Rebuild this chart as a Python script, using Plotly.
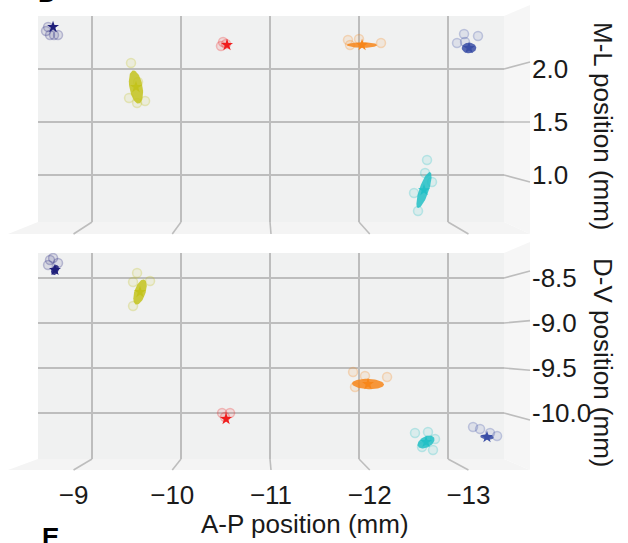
import numpy as np
import plotly.graph_objects as go

W, H = 628, 543

# ---------------- data ----------------
GROUPS = ["navy", "olive", "red", "orange", "blue", "cyan"]
COLORS = ["#1f1f7a", "#c3c31c", "#f01d1d", "#f7861a", "#3a4ea6", "#22c0c6"]

AP_TICKS = [-9, -10, -11, -12, -13]
AP_TICKTEXT = ["\u22129", "\u221210", "\u221211", "\u221212", "\u221213"]
ML_TICKS = [1.0, 1.5, 2.0]
ML_TICKTEXT = ["1.0", "1.5", "2.0"]
DV_TICKS = [-10.0, -9.5, -9.0, -8.5]
DV_TICKTEXT = ["-10.0", "-9.5", "-9.0", "-8.5"]

# top panel: A-P vs M-L (cluster means + covariance ellipses)
TOP_AP = [-8.562, -9.494, -10.517, -12.034, -13.236, -12.730]
TOP_ML = [2.396, 1.830, 2.226, 2.226, 2.198, 0.858]
TOP_RX = [0.02, 0.08, 0.015, 0.17, 0.082, 0.085]
TOP_RY = [0.02, 0.156, 0.015, 0.026, 0.05, 0.17]
TOP_R = [0.0, 0.35, 0.0, 0.0, 0.0, -0.75]

TOP_PTS_AP = [
    [-8.506, -8.528, -8.618, -8.573, -8.483],
    [-9.438, -9.416, -9.506, -9.596, -9.517],
    [-10.472, -10.506, -10.449],
    [-11.876, -12.000, -12.247, -11.899],
    [-13.180, -13.337, -13.101, -13.191],
    [-12.764, -12.742, -12.820, -12.618, -12.663],
]
TOP_PTS_ML = [
    [2.396, 2.321, 2.321, 2.321, 2.358],
    [2.057, 1.726, 1.679, 1.698, 1.877],
    [2.255, 2.236, 2.217],
    [2.274, 2.283, 2.245, 2.226],
    [2.330, 2.311, 2.245, 2.255],
    [1.142, 1.019, 0.934, 0.830, 0.660],
]

# bottom panel: A-P vs D-V
BOT_AP = [-8.584, -9.539, -10.506, -12.101, -13.438, -12.753]
BOT_DV = [-8.411, -8.656, -10.067, -9.678, -10.267, -10.322]
BOT_RX = [0.045, 0.075, 0.015, 0.18, 0.075, 0.095]
BOT_RY = [0.056, 0.14, 0.015, 0.058, 0.03, 0.072]
BOT_R = [-0.3, -0.5, 0.0, 0.1, 0.2, -0.4]

BOT_PTS_AP = [
    [-8.528, -8.618, -8.562, -8.506],
    [-9.506, -9.652, -9.461, -9.461],
    [-10.461, -10.551, -10.494],
    [-11.933, -12.067, -12.315, -11.955],
    [-13.281, -13.360, -13.472, -13.551],
    [-12.629, -12.775, -12.854, -12.831, -12.708],
]
BOT_PTS_DV = [
    [-8.300, -8.333, -8.278, -8.356],
    [-8.444, -8.533, -8.544, -8.811],
    [-10.000, -10.000, -10.044],
    [-9.544, -9.589, -9.600, -9.711],
    [-10.156, -10.178, -10.222, -10.256],
    [-10.222, -10.211, -10.289, -10.411, -10.378],
]

# ---------------- layout geometry (px) ----------------
X0, X1 = 38, 504          # back pane
XF0, XF1 = 8, 530         # front edges
TOP_Y0, TOP_Y1, TOP_FY, TOP_SY = 16, 222, 234, 5
BOT_Y0, BOT_Y1, BOT_FY, BOT_SY = 253, 459, 470, 242

AP_RANGE = [-8.393, -13.629]
AP_FRONT_RANGE = [-8.640, -13.360]
ML_RANGE = [0.557, 2.5]
ML_FRONT_RANGE = [0.667, 2.383]
DV_RANGE = [-10.511, -8.222]
DV_FRONT_RANGE = [-10.393, -8.319]

FONT = "Liberation Sans, Arial, sans-serif"
TXT = "#1a1a1a"
GRID = "#bdbdbd"
PANE = "#f0f1f1"
FLOOR = "#f4f4f4"
SIDE = "#f6f6f6"


def px(x):
    return x / W


def py(y):
    return 1 - y / H


def rgba(hexc, a):
    h = hexc.lstrip("#")
    r, g, b = int(h[0:2], 16), int(h[2:4], 16), int(h[4:6], 16)
    return f"rgba({r},{g},{b},{a})"


def remap(v, src, dst):
    f = (v - src[0]) / (src[1] - src[0])
    return dst[0] + f * (dst[1] - dst[0])


def ellipse(cx, cy, rx, ry, r, n=64):
    t = np.linspace(0, 2 * np.pi, n)
    x = cx + rx * np.cos(t)
    y = cy + ry * (r * np.cos(t) + np.sqrt(1 - r * r) * np.sin(t))
    return x, y


fig = go.Figure()


def add_panel(xa, ya, m_ap, m_v, rx, ry, rr, p_ap, p_v):
    for i, c in enumerate(COLORS):
        fig.add_trace(go.Scatter(
            x=p_ap[i], y=p_v[i], mode="markers", xaxis=xa, yaxis=ya,
            marker=dict(symbol="circle", size=9, color=rgba(c, 0.10),
                        line=dict(color=rgba(c, 0.26), width=1.5)),
            showlegend=False, hoverinfo="skip"))
    for i, c in enumerate(COLORS):
        ex, ey = ellipse(m_ap[i], m_v[i], rx[i], ry[i], rr[i])
        fig.add_trace(go.Scatter(
            x=ex, y=ey, mode="lines", fill="toself", xaxis=xa, yaxis=ya,
            fillcolor=rgba(c, 0.85), line=dict(width=0, color=c),
            showlegend=False, hoverinfo="skip"))
        fig.add_trace(go.Scatter(
            x=[m_ap[i]], y=[m_v[i]], mode="markers", xaxis=xa, yaxis=ya,
            marker=dict(symbol="star", size=9, color=c, line=dict(width=0)),
            showlegend=False, hoverinfo="skip"))


add_panel("x", "y", TOP_AP, TOP_ML, TOP_RX, TOP_RY, TOP_R, TOP_PTS_AP, TOP_PTS_ML)
add_panel("x2", "y2", BOT_AP, BOT_DV, BOT_RX, BOT_RY, BOT_R, BOT_PTS_AP, BOT_PTS_DV)
# carrier for the front A-P tick axis
fig.add_trace(go.Scatter(x=[None], y=[None], xaxis="x3", yaxis="y2",
                         showlegend=False, hoverinfo="skip"))

shapes = []
for (y0, y1, fy, sy) in [(TOP_Y0, TOP_Y1, TOP_FY, TOP_SY), (BOT_Y0, BOT_Y1, BOT_FY, BOT_SY)]:
    shapes.append(dict(type="rect", xref="paper", yref="paper", layer="below",
                       x0=px(X0), x1=px(X1), y0=py(y1), y1=py(y0),
                       fillcolor=PANE, line=dict(width=0)))
    shapes.append(dict(type="path", xref="paper", yref="paper", layer="below",
                       path=f"M {px(X0)},{py(y1)} L {px(X1)},{py(y1)} L {px(XF1)},{py(fy)} L {px(XF0)},{py(fy)} Z",
                       fillcolor=FLOOR, line=dict(width=0)))
    shapes.append(dict(type="path", xref="paper", yref="paper", layer="below",
                       path=f"M {px(X1)},{py(y0)} L {px(XF1)},{py(sy)} L {px(XF1)},{py(fy)} L {px(X1)},{py(y1)} Z",
                       fillcolor=SIDE, line=dict(width=0)))

# floor lines (back gridline -> front tick)
for xr, y1, fy in [("x", TOP_Y1, TOP_FY), ("x2", BOT_Y1, BOT_FY)]:
    for a in AP_TICKS:
        af = remap(a, AP_FRONT_RANGE, AP_RANGE)
        shapes.append(dict(type="line", xref=xr, yref="paper", layer="below",
                           x0=a, x1=af, y0=py(y1), y1=py(fy),
                           line=dict(color=GRID, width=1.6)))

# side lines (back gridline -> front tick)
for yr, ticks, rng, frng in [("y", ML_TICKS, ML_RANGE, ML_FRONT_RANGE),
                             ("y2", DV_TICKS, DV_RANGE, DV_FRONT_RANGE)]:
    for v in ticks:
        vf = remap(v, frng, rng)
        shapes.append(dict(type="line", xref="paper", yref=yr, layer="below",
                           x0=px(X1), x1=px(XF1), y0=v, y1=vf,
                           line=dict(color=GRID, width=1.6)))

common_x = dict(domain=[px(X0), px(X1)], range=AP_RANGE, tickvals=AP_TICKS,
                showticklabels=False, ticks="", showgrid=True, gridcolor=GRID,
                gridwidth=2, zeroline=False, showline=False, fixedrange=True,
                automargin=False)
common_y = dict(side="right", ticks="", showgrid=True, gridcolor=GRID, gridwidth=2,
                zeroline=False, showline=False, ticklabelstandoff=27,
                tickfont=dict(size=26, color=TXT, family=FONT), fixedrange=True,
                automargin=False)

annotations = [
    dict(text="M-L position (mm)", x=px(603), y=py(126), xref="paper", yref="paper",
         xanchor="center", yanchor="middle",
         showarrow=False, textangle=90, font=dict(size=26, color=TXT, family=FONT)),
    dict(text="D-V position (mm)", x=px(603), y=py(362), xref="paper", yref="paper",
         xanchor="center", yanchor="middle",
         showarrow=False, textangle=90, font=dict(size=26, color=TXT, family=FONT)),
    dict(text="A-P position (mm)", x=px(305), y=py(524), xref="paper", yref="paper",
         xanchor="center", yanchor="middle",
         showarrow=False, font=dict(size=26, color=TXT, family=FONT)),
    dict(text="<b>D</b>", x=px(47), y=py(10), xref="paper", yref="paper",
         xanchor="center", yanchor="bottom", showarrow=False,
         font=dict(size=26, color="#000000", family=FONT)),
    dict(text="<b>E</b>", x=px(50), y=py(520), xref="paper", yref="paper",
         xanchor="center", yanchor="top", showarrow=False,
         font=dict(size=26, color="#000000", family=FONT)),
]

fig.update_layout(
    template="none",
    width=W, height=H,
    margin=dict(l=0, r=0, t=0, b=0, pad=0, autoexpand=False),
    paper_bgcolor="white", plot_bgcolor="rgba(0,0,0,0)",
    showlegend=False,
    xaxis=dict(anchor="y", **common_x),
    xaxis2=dict(anchor="y2", **common_x),
    xaxis3=dict(overlaying="x2", anchor="y2", side="bottom", domain=[px(X0), px(X1)],
                range=AP_FRONT_RANGE, tickvals=AP_TICKS, ticktext=AP_TICKTEXT,
                ticks="", showgrid=False, zeroline=False, showline=False,
                ticklabelstandoff=18, tickfont=dict(size=26, color=TXT, family=FONT),
                fixedrange=True, automargin=False),
    yaxis=dict(anchor="x", domain=[py(TOP_Y1), py(TOP_Y0)], range=ML_RANGE,
               tickvals=ML_TICKS, ticktext=ML_TICKTEXT, **common_y),
    yaxis2=dict(anchor="x2", domain=[py(BOT_Y1), py(BOT_Y0)], range=DV_RANGE,
                tickvals=DV_TICKS, ticktext=DV_TICKTEXT, **common_y),
    shapes=shapes,
    annotations=annotations,
)

fig.write_html("out.html", config={"displayModeBar": False},
               post_script="document.body.style.margin='0';")
